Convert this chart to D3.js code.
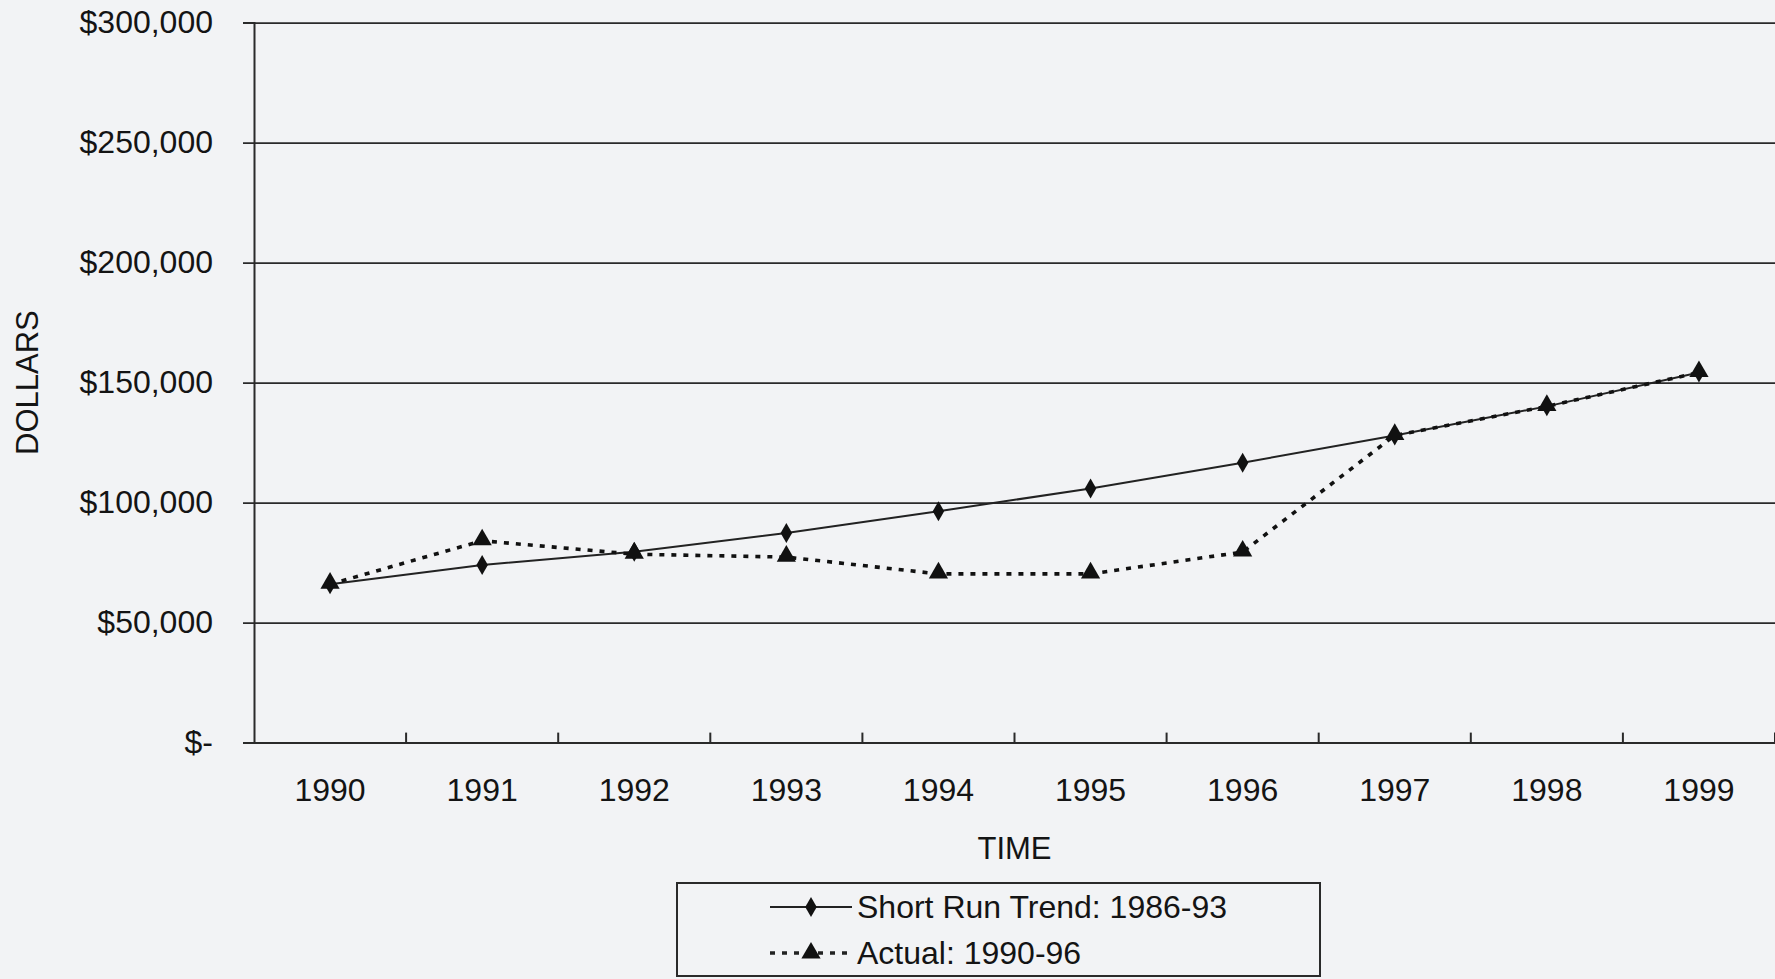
<!DOCTYPE html>
<html>
<head>
<meta charset="utf-8">
<script src="https://cdn.jsdelivr.net/npm/d3@7"></script>
<style>
  html, body { margin: 0; padding: 0; background: #f2f3f5; }
  svg { display: block; }
  text { font-family: "Liberation Sans", Arial, Helvetica, sans-serif; fill: #141414; }
</style>
</head>
<body>
<svg id="chart" width="1775" height="979"></svg>
<script>
const years = ["1990","1991","1992","1993","1994","1995","1996","1997","1998","1999"];
const trendValues  = [66000, 74000, 79500, 87300, 96400, 105900, 116600, 128000, 140100, 154200];
const actualValues = [66000, 84100, 78500, 77300, 70300, 70300, 79400, 128000, 140100, 154200];
const yTickValues = [0, 50000, 100000, 150000, 200000, 250000, 300000];
const yTickLabels = ["$-", "$50,000", "$100,000", "$150,000", "$200,000", "$250,000", "$300,000"];
const seriesNames = ["Short Run Trend: 1986-93", "Actual: 1990-96"];
const xTitle = "TIME";
const yTitle = "DOLLARS";

const W = 1775, H = 979;
const m = { left: 254, right: 0, top: 22.6, bottom: H - 742.6 };
const svg = d3.select("#chart");
svg.append("rect").attr("width", W).attr("height", H).attr("fill", "#f2f3f5");

const x = d3.scaleBand().domain(years).range([m.left, W - m.right]).padding(0);
const y = d3.scaleLinear().domain([0, 300000]).range([H - m.bottom, m.top]);

const ink = "#2a2a2a";

// Gridlines + y axis labels
const yAxis = d3.axisLeft(y)
  .tickValues(yTickValues)
  .tickFormat((d, i) => yTickLabels[i])
  .tickSize(11)
  .tickPadding(30);
const gy = svg.append("g").attr("transform", `translate(${m.left},0)`).call(yAxis);
gy.select(".domain").attr("stroke", ink).attr("stroke-width", 2);
gy.selectAll(".tick line").attr("x1", -11).attr("x2", W - m.left).attr("stroke", ink).attr("stroke-width", 1.8);
gy.selectAll(".tick text").attr("font-size", 32).style("fill", "#141414");

// X axis (labels at band centres, ticks at band boundaries pointing up)
const xAxis = d3.axisBottom(x).tickSize(0).tickPadding(36);
const gx = svg.append("g").attr("transform", `translate(0,${y(0)})`).call(xAxis);
gx.select(".domain").attr("stroke", ink).attr("stroke-width", 2);
gx.selectAll(".tick text").attr("font-size", 32).style("fill", "#141414");
gx.selectAll(".bound").data(years).enter().append("line")
  .attr("x1", d => x(d) + x.bandwidth()).attr("x2", d => x(d) + x.bandwidth())
  .attr("y1", 0).attr("y2", -10)
  .attr("stroke", ink).attr("stroke-width", 2);

// Axis titles
svg.append("text").attr("x", (m.left + W - m.right) / 2).attr("y", 848)
  .attr("text-anchor", "middle").attr("dominant-baseline", "central")
  .attr("font-size", 31).text(xTitle);
svg.append("text")
  .attr("transform", `translate(27,${(y(0) + y(300000)) / 2}) rotate(-90)`)
  .attr("text-anchor", "middle").attr("dominant-baseline", "central")
  .attr("font-size", 31).text(yTitle);

// Lines
const cx = d => x(d) + x.bandwidth() / 2;
const line = d3.line().x(d => cx(d.year)).y(d => y(d.v));
const trendData = years.map((yr, i) => ({ year: yr, v: trendValues[i] }));
const actualData = years.map((yr, i) => ({ year: yr, v: actualValues[i] }));

svg.append("path").datum(trendData).attr("d", line)
  .attr("fill", "none").attr("stroke", "#222").attr("stroke-width", 2);
svg.append("path").datum(actualData).attr("d", line)
  .attr("fill", "none").attr("stroke", "#111").attr("stroke-width", 3.6)
  .attr("stroke-dasharray", "5,7");

const diamond = d3.symbol().type(d3.symbolDiamond).size(115);
const triangle = d3.symbol().type(d3.symbolTriangle).size(160);

svg.selectAll(".dia").data(trendData).enter().append("path")
  .attr("d", diamond).attr("transform", d => `translate(${cx(d.year)},${y(d.v)})`)
  .attr("fill", "#111");
svg.selectAll(".tri").data(actualData).enter().append("path")
  .attr("d", triangle).attr("transform", d => `translate(${cx(d.year)},${y(d.v) - 1})`)
  .attr("fill", "#111");

// Legend
const lg = svg.append("g");
lg.append("rect").attr("x", 677).attr("y", 883).attr("width", 643).attr("height", 93)
  .attr("fill", "none").attr("stroke", ink).attr("stroke-width", 2);
const rows = [
  { name: seriesNames[0], yy: 907, dash: null, w: 2, sym: diamond },
  { name: seriesNames[1], yy: 953, dash: "5,7", w: 3.6, sym: triangle }
];
rows.forEach(r => {
  lg.append("line").attr("x1", 770).attr("x2", 852).attr("y1", r.yy).attr("y2", r.yy)
    .attr("stroke", "#222").attr("stroke-width", r.w)
    .attr("stroke-dasharray", r.dash);
  lg.append("path").attr("d", r.sym).attr("transform", `translate(811,${r.yy})`).attr("fill", "#111");
  lg.append("text").attr("x", 857).attr("y", r.yy).attr("dominant-baseline", "central")
    .attr("font-size", 32).text(r.name);
});
</script>
</body>
</html>
